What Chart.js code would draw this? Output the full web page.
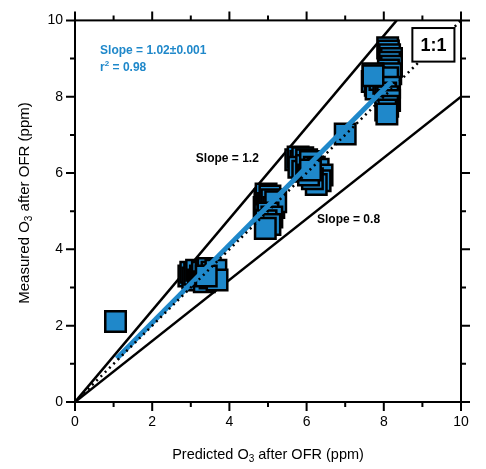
<!DOCTYPE html>
<html>
<head>
<meta charset="utf-8">
<script src="https://cdn.jsdelivr.net/npm/chart.js@4.4.0/dist/chart.umd.min.js"></script>
<style>
html, body { margin: 0; padding: 0; background: #fff; }
#wrap { width: 486px; height: 469px; position: relative; }
</style>
</head>
<body>
<div id="wrap"><canvas id="myChart"></canvas></div>
<script>
// measured vs predicted O3 (ppm)
const obsX = [1.05,
    2.95, 3.0, 3.05, 3.1, 3.15, 3.2, 3.25, 3.3, 3.35, 3.4, 3.45, 3.5, 3.55, 3.6, 3.65, 3.68, 3.4,
    4.9, 4.92, 4.95, 5.0, 5.05, 5.1, 5.15, 5.2, 5.0, 5.1, 4.95, 5.05, 4.93,
    5.72, 5.78, 5.85, 5.9, 6.0, 5.8, 5.9, 6.0, 6.1, 6.2, 6.3, 6.4, 6.35, 6.25, 6.15, 6.05, 6.1,
    7.0,
    8.1, 8.12, 8.15, 8.2, 8.15, 8.2, 8.12, 8.18, 7.72, 7.75, 7.7, 7.78, 7.8, 7.9, 8.0, 8.1,
    8.15, 8.05, 8.1, 8.15, 8.1, 8.05, 8.08, 7.72];
const obsY = [2.11,
    3.3, 3.4, 3.25, 3.35, 3.45, 3.2, 3.3, 3.4, 3.15, 3.35, 3.5, 3.25, 3.4, 3.3, 3.45, 3.2, 3.3,
    5.1, 5.3, 5.45, 5.2, 5.4, 5.3, 5.1, 5.25, 4.95, 4.85, 4.75, 4.65, 4.55,
    6.35, 6.42, 6.3, 6.4, 6.35, 6.15, 6.05, 6.2, 6.3, 6.15, 6.1, 5.95, 5.8, 5.7, 5.85, 5.95, 6.08,
    7.02,
    9.28, 9.2, 9.1, 9.0, 8.9, 8.8, 8.7, 8.6, 8.6, 8.5, 8.4, 8.3, 8.2, 8.45, 8.35, 8.5,
    8.25, 8.1, 8.0, 7.9, 7.75, 7.65, 7.55, 8.55];

// reference lines
const oneX = [0, 10], oneY = [0, 10];
const hiX = [0, 8.333], hiY = [0, 10];     // slope 1.2
const loX = [0, 10], loY = [0, 8];         // slope 0.8
// regression line
const fitX = [1.08, 8.2], fitY = [1.14, 8.40];

const tickValues = [0, 1, 2, 3, 4, 5, 6, 7, 8, 9, 10];

const blue = '#1f88ca';
const fam = '"Liberation Sans", Arial, sans-serif';

function pts(xs, ys) {
    return xs.map((x, i) => ({ x: x, y: ys[i] }));
}

function drawParts(ctx, parts, x, y, align) {
    let w = 0;
    parts.forEach(p => { ctx.font = p.font; w += ctx.measureText(p.t).width; });
    let cx = align === 'center' ? x - w / 2 : x;
    parts.forEach(p => {
        ctx.font = p.font;
        ctx.fillText(p.t, cx, y + (p.dy || 0));
        cx += ctx.measureText(p.t).width;
    });
}

const framePlugin = {
    id: 'frame',
    afterDraw(chart) {
        const ctx = chart.ctx;
        const xs = chart.scales.x, ys = chart.scales.y;
        const a = chart.chartArea;
        ctx.save();
        ctx.strokeStyle = '#000';
        ctx.fillStyle = '#000';
        ctx.lineWidth = 2;
        ctx.strokeRect(a.left, a.top, a.right - a.left, a.bottom - a.top);

        ctx.beginPath();
        tickValues.forEach(v => {
            const len = v % 2 === 0 ? 9 : 5;
            const px = xs.getPixelForValue(v);
            const py = ys.getPixelForValue(v);
            ctx.moveTo(px, a.bottom); ctx.lineTo(px, a.bottom + len);
            ctx.moveTo(px, a.top); ctx.lineTo(px, a.top - len);
            ctx.moveTo(a.left, py); ctx.lineTo(a.left - len, py);
            ctx.moveTo(a.right, py); ctx.lineTo(a.right + len, py);
        });
        ctx.stroke();

        // annotations
        ctx.textBaseline = 'middle';
        ctx.textAlign = 'left';
        const b12 = 'bold 12px ' + fam;
        ctx.fillStyle = blue;
        drawParts(ctx, [{ t: 'Slope = 1.02\u00b10.001', font: b12 }],
            xs.getPixelForValue(0.65), ys.getPixelForValue(9.21), 'left');
        drawParts(ctx, [{ t: 'r', font: b12 }, { t: '2', font: 'bold 8px ' + fam, dy: -4 },
            { t: ' = 0.98', font: b12 }],
            xs.getPixelForValue(0.65), ys.getPixelForValue(8.76), 'left');

        ctx.fillStyle = '#000';
        drawParts(ctx, [{ t: 'Slope = 1.2', font: b12 }],
            xs.getPixelForValue(3.13), ys.getPixelForValue(6.38), 'left');
        drawParts(ctx, [{ t: 'Slope = 0.8', font: b12 }],
            xs.getPixelForValue(6.27), ys.getPixelForValue(4.78), 'left');

        // 1:1 box
        const bx0 = xs.getPixelForValue(8.74), bx1 = xs.getPixelForValue(9.83);
        const by0 = ys.getPixelForValue(9.8), by1 = ys.getPixelForValue(8.92);
        ctx.fillStyle = '#fff';
        ctx.fillRect(bx0, by0, bx1 - bx0, by1 - by0);
        ctx.strokeRect(bx0, by0, bx1 - bx0, by1 - by0);
        ctx.fillStyle = '#000';
        ctx.textAlign = 'center';
        ctx.font = 'bold 18px ' + fam;
        ctx.fillText('1:1', (bx0 + bx1) / 2, (by0 + by1) / 2 + 1);

        // axis titles with subscript
        ctx.textAlign = 'left';
        const t15 = '14.5px ' + fam, s10 = '10px ' + fam;
        drawParts(ctx, [{ t: 'Predicted O', font: t15 }, { t: '3', font: s10, dy: 4 },
            { t: ' after OFR (ppm)', font: t15 }],
            (a.left + a.right) / 2, 455, 'center');
        ctx.translate(25, 203);
        ctx.rotate(-Math.PI / 2);
        drawParts(ctx, [{ t: 'Measured O', font: '15px ' + fam }, { t: '3', font: s10, dy: 4 },
            { t: ' after OFR (ppm)', font: '15px ' + fam }],
            0, 0, 'center');
        ctx.restore();
    }
};

const ctx = document.getElementById('myChart');

const myChart = new Chart(ctx, {
    type: 'scatter',
    data: {
        datasets: [
            {
                label: 'data',
                data: pts(obsX, obsY),
                pointStyle: 'rect',
                pointRadius: 14.5,
                backgroundColor: blue,
                borderColor: '#000',
                borderWidth: 2.5,
                order: 2
            },
            {
                label: 'slope 1.2',
                data: pts(hiX, hiY),
                showLine: true,
                pointRadius: 0,
                borderColor: '#000',
                borderWidth: 2.5,
                order: 3
            },
            {
                label: 'slope 0.8',
                data: pts(loX, loY),
                showLine: true,
                pointRadius: 0,
                borderColor: '#000',
                borderWidth: 2.5,
                order: 3
            },
            {
                label: 'fit',
                data: pts(fitX, fitY),
                showLine: true,
                pointRadius: 0,
                borderColor: blue,
                borderWidth: 5,
                order: 1
            },
            {
                label: '1:1',
                data: pts(oneX, oneY),
                showLine: true,
                pointRadius: 0,
                borderColor: '#000',
                borderWidth: 2.5,
                borderDash: [2, 4],
                order: 0
            }
        ]
    },
    options: {
        responsive: true,
        maintainAspectRatio: false,
        animation: false,
        layout: { padding: { left: 0, right: 25, top: 15, bottom: 0 } },
        plugins: {
            legend: { display: false },
            tooltip: { enabled: false }
        },
        scales: {
            x: {
                type: 'linear',
                min: 0,
                max: 10,
                grid: { display: false, drawTicks: false },
                border: { display: false },
                ticks: {
                    stepSize: 2,
                    padding: 12,
                    maxRotation: 0,
                    autoSkip: false,
                    color: '#000',
                    font: { family: fam, size: 14 }
                },
                afterFit(scale) { scale.height = 67; }
            },
            y: {
                type: 'linear',
                min: 0,
                max: 10,
                grid: { display: false, drawTicks: false },
                border: { display: false },
                ticks: {
                    stepSize: 2,
                    padding: 12,
                    autoSkip: false,
                    color: '#000',
                    font: { family: fam, size: 14 }
                },
                afterFit(scale) { scale.width = 75; }
            }
        }
    },
    plugins: [framePlugin]
});
</script>
</body>
</html>
